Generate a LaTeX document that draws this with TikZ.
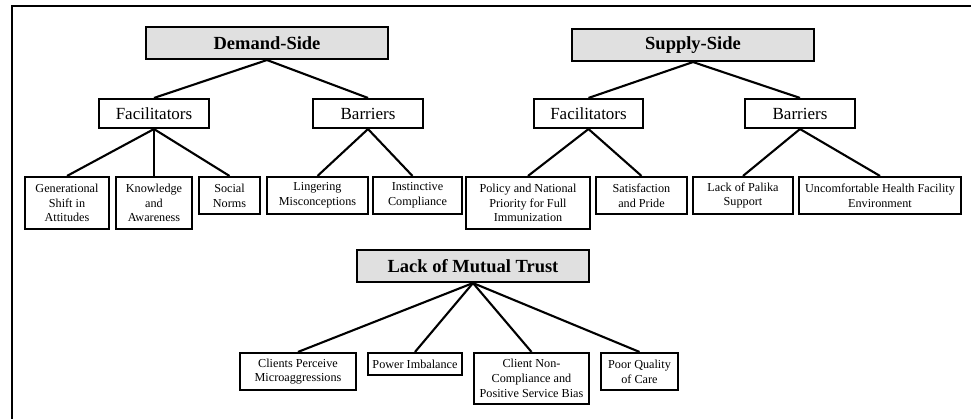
\documentclass[tikz,border=0pt]{standalone}
\usepackage{fontspec}
\setmainfont{Liberation Serif}
\definecolor{hdrfill}{RGB}{224,224,224}
\begin{document}
\begin{tikzpicture}[x=1pt,y=-1pt,
  box/.style={draw=black, line width=2.1pt, rectangle, inner sep=0pt, align=center, text=black},
  hdr/.style={box, fill=hdrfill, minimum height=32pt, font=\fontsize{18.5}{22}\selectfont\bfseries},
  mid/.style={box, minimum width=110pt, minimum height=29pt, font=\fontsize{17}{20}\selectfont},
  leaf/.style={box, font=\fontsize{12.2}{14.7}\selectfont},
  link/.style={line width=2.1pt}]
\useasboundingbox (0,0) rectangle (971,419);
% frame
\coordinate (fa) at (12,419);
\coordinate (fb) at (12,6);
\coordinate (fc) at (971,6);
\draw[line width=2pt] (fa) -- (fb) -- (fc);

% headers
\node[hdr, minimum width=242pt] (DS) at (267,43) {Demand-Side};
\node[hdr, minimum width=242pt] (SS) at (693,45) {Supply-Side};
\node[hdr, minimum width=232pt] (LMT) at (473,266) {Lack of Mutual Trust};

% middle
\node[mid] (DF) at (154,113.5) {Facilitators};
\node[mid] (DB) at (368,113.5) {Barriers};
\node[mid, minimum width=109pt] (SF) at (588.5,113.5) {Facilitators};
\node[mid] (SB) at (800,113.5) {Barriers};

% demand leaves
\node[leaf, minimum width=84pt, minimum height=52pt] (Gen) at (67,203) {Generational\\Shift in\\Attitudes};
\node[leaf, minimum width=76pt, minimum height=52pt] (Know) at (154,203) {Knowledge\\and\\Awareness};
\node[leaf, minimum width=61pt, minimum height=37pt] (Soc) at (229.5,195.5) {Social\\Norms};
\node[leaf, minimum width=101pt, minimum height=37pt] (Ling) at (317.5,195.5) {Lingering\\Misconceptions};
\node[leaf, minimum width=89pt, minimum height=37pt] (Inst) at (417.5,195.5) {Instinctive\\Compliance};

% supply leaves
\node[leaf, minimum width=124pt, minimum height=52pt] (Pol) at (528,203) {Policy and National\\Priority for Full\\Immunization};
\node[leaf, minimum width=91pt, minimum height=37pt] (Sat) at (641.5,195.5) {Satisfaction\\and Pride};
\node[leaf, minimum width=100pt, minimum height=37pt] (Lack) at (743,195.5) {Lack of Palika\\Support};
\node[leaf, minimum width=162pt, minimum height=37pt] (Unc) at (880,195.5) {Uncomfortable Health Facility\\Environment};

% trust leaves
\node[leaf, minimum width=116pt, minimum height=37pt] (Cli) at (298,371.5) {Clients Perceive\\Microaggressions};
\node[leaf, minimum width=94pt, minimum height=22pt] (Pow) at (415,364) {Power Imbalance};
\node[leaf, minimum width=115pt, minimum height=51pt] (CNC) at (531.5,378.5) {Client Non-\\Compliance and\\Positive Service Bias};
\node[leaf, minimum width=77pt, minimum height=37pt] (Poor) at (639.5,371.5) {Poor Quality\\of Care};

% connectors
\draw[link] (DS.south) -- (DF.north);
\draw[link] (DS.south) -- (DB.north);
\draw[link] (SS.south) -- (SF.north);
\draw[link] (SS.south) -- (SB.north);
\draw[link] (DF.south) -- (Gen.north);
\draw[link] (DF.south) -- (Know.north);
\draw[link] (DF.south) -- (Soc.north);
\draw[link] (DB.south) -- (Ling.north);
\draw[link] (DB.south) -- ([xshift=-5pt]Inst.north);
\draw[link] (SF.south) -- (Pol.north);
\draw[link] (SF.south) -- (Sat.north);
\draw[link] (SB.south) -- (Lack.north);
\draw[link] (SB.south) -- (Unc.north);
\draw[link] (LMT.south) -- (Cli.north);
\draw[link] (LMT.south) -- (Pow.north);
\draw[link] (LMT.south) -- (CNC.north);
\draw[link] (LMT.south) -- (Poor.north);
\end{tikzpicture}
\end{document}
